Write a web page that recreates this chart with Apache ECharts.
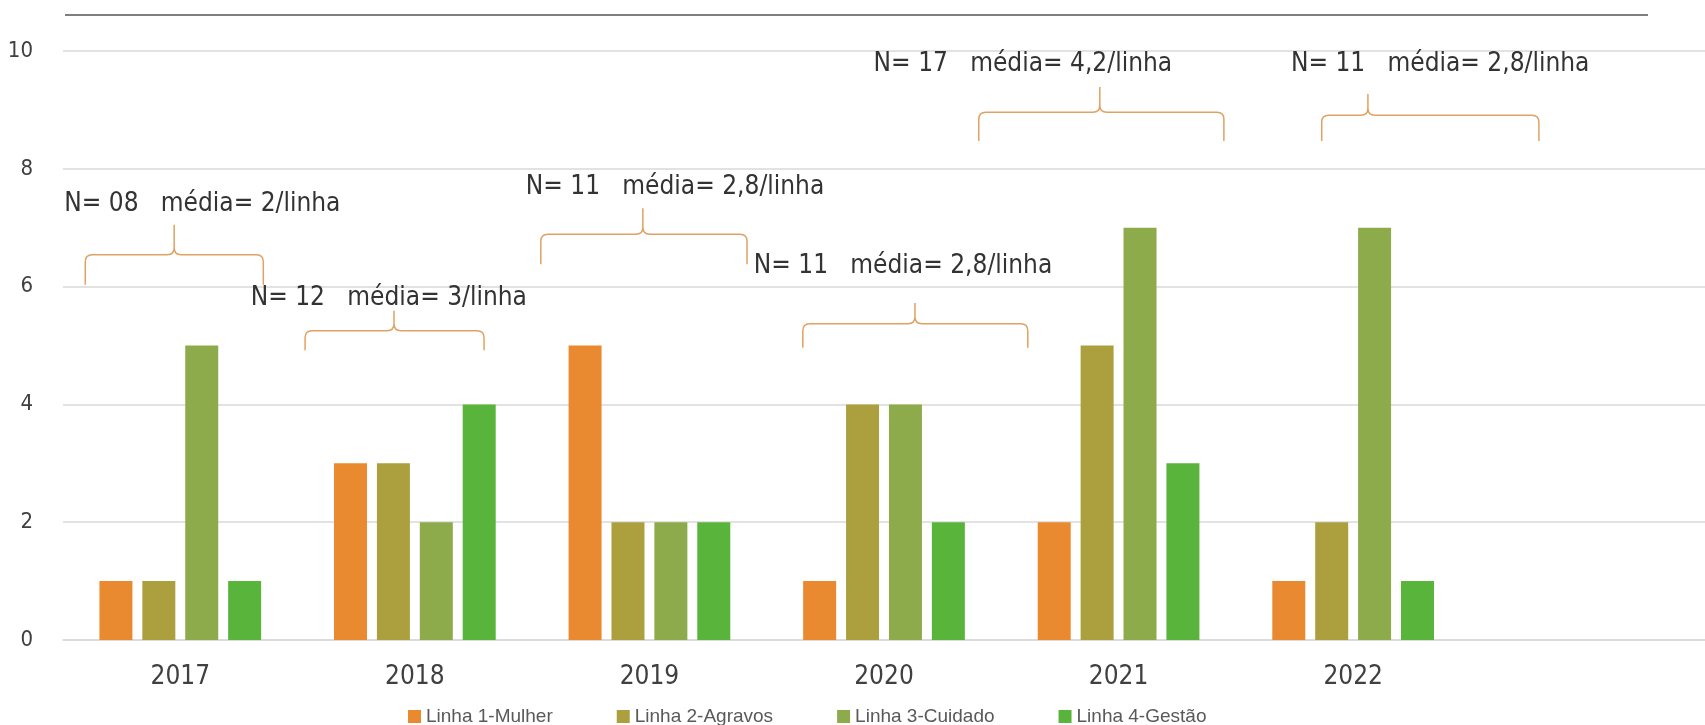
<!DOCTYPE html>
<html>
<head>
<meta charset="utf-8">
<script src="https://cdn.jsdelivr.net/npm/echarts@6/dist/echarts.min.js"></script>
<style>
  html, body { margin: 0; padding: 0; background: #fff; }
  #main { width: 1705px; height: 725px; }
</style>
</head>
<body>
<div id="main"></div>
<script>
  // categorias (a ultima fica vazia, como no original)
  var anos = ['2017', '2018', '2019', '2020', '2021', '2022', ''];
  var linhas = ['Linha 1-Mulher', 'Linha 2-Agravos', 'Linha 3-Cuidado', 'Linha 4-Gestão'];
  var linha1 = [1, 3, 5, 1, 2, 1];
  var linha2 = [1, 3, 2, 4, 5, 2];
  var linha3 = [5, 2, 2, 4, 7, 7];
  var linha4 = [1, 4, 2, 2, 3, 1];
  var yTicks = [0, 2, 4, 6, 8, 10];

  // anotações: texto por ano
  var notas = [
    'N= 08   média= 2/linha',
    'N= 12   média= 3/linha',
    'N= 11   média= 2,8/linha',
    'N= 11   média= 2,8/linha',
    'N= 17   média= 4,2/linha',
    'N= 11   média= 2,8/linha'
  ];
  // posição das chaves: [inicio, fim, bico, texto] em fração da categoria, e alturas [texto, bico, traço, base] no eixo y
  var chaveX = [
    [-0.405, 0.354, -0.026, 0.094],
    [-0.468, 0.295, -0.089, -0.111],
    [-0.463, 0.416, -0.028, 0.109],
    [-0.346, 0.613, 0.132, 0.081],
    [-0.596, 0.449, -0.080, -0.408],
    [-0.134, 0.792, 0.063, 0.371]
  ];
  var chaveY = [
    [7.40, 7.05, 6.54, 6.03],
    [5.81, 5.59, 5.25, 4.92],
    [7.68, 7.33, 6.89, 6.38],
    [6.35, 5.72, 5.37, 4.96],
    [9.78, 9.39, 8.96, 8.47],
    [9.78, 9.27, 8.91, 8.47]
  ];

  var cores = ['#ea8a30', '#aca03e', '#8dab4b', '#58b43b'];
  var fonteCal = "'Liberation Sans Narrow', 'DejaVu Sans Condensed', 'Liberation Sans', sans-serif";

  var chart = echarts.init(document.getElementById('main'));

  var notasData = notas.map(function (t, i) {
    return [i].concat(chaveX[i], chaveY[i]);
  });

  function desenhaChave(params, api) {
    var i = api.value(0);
    var centro = api.coord([i, 0])[0];
    var banda = api.size([1, 0])[0];
    var x0 = centro + api.value(1) * banda;
    var x1 = centro + api.value(2) * banda;
    var pk = centro + api.value(3) * banda;
    var xt = centro + api.value(4) * banda;
    var yt = api.coord([i, api.value(5)])[1];
    var yTop = api.coord([i, api.value(6)])[1];
    var yh = api.coord([i, api.value(7)])[1];
    var yb = api.coord([i, api.value(8)])[1];
    var r = 7;
    var d = 'M' + x0 + ' ' + yb +
      ' L' + x0 + ' ' + (yh + r) +
      ' Q' + x0 + ' ' + yh + ' ' + (x0 + r) + ' ' + yh +
      ' L' + (pk - r) + ' ' + yh +
      ' Q' + pk + ' ' + yh + ' ' + pk + ' ' + (yh - r) +
      ' L' + pk + ' ' + yTop +
      ' M' + pk + ' ' + (yh - r) +
      ' Q' + pk + ' ' + yh + ' ' + (pk + r) + ' ' + yh +
      ' L' + (x1 - r) + ' ' + yh +
      ' Q' + x1 + ' ' + yh + ' ' + x1 + ' ' + (yh + r) +
      ' L' + x1 + ' ' + yb;
    return {
      type: 'group',
      children: [
        {
          type: 'path',
          shape: { pathData: d },
          style: { fill: null, stroke: '#e0a262', lineWidth: 1.5 }
        },
        {
          type: 'text',
          style: {
            text: notas[i],
            x: xt,
            y: yt,
            align: 'center',
            verticalAlign: 'middle',
            fill: '#333',
            font: '26px ' + fonteCal
          }
        }
      ]
    };
  }

  var barras = [linha1, linha2, linha3, linha4].map(function (vals, k) {
    return {
      name: linhas[k],
      type: 'bar',
      data: vals,
      barWidth: 33,
      barGap: '30%',
      itemStyle: { color: cores[k] }
    };
  });

  var option = {
    animation: false,
    grid: { left: 63, right: 0, top: 51, bottom: 85 },
    legend: {
      data: linhas,
      top: 702,
      left: 403,
      itemWidth: 13,
      itemHeight: 13,
      itemGap: 64,
      icon: 'rect',
      textStyle: { fontSize: 19, color: '#595959', fontFamily: 'Liberation Sans' }
    },
    xAxis: {
      type: 'category',
      data: anos,
      axisLine: { lineStyle: { color: '#d9d9d9', width: 1.5 } },
      axisTick: { show: false },
      axisLabel: { fontSize: 26, color: '#404040', margin: 24, fontFamily: fonteCal }
    },
    yAxis: {
      type: 'value',
      min: yTicks[0],
      max: yTicks[yTicks.length - 1],
      interval: 2,
      splitLine: { lineStyle: { color: '#d9d9d9', width: 1.5 } },
      axisLabel: { fontSize: 22, color: '#404040', margin: 30, fontFamily: fonteCal }
    },
    graphic: [
      {
        type: 'line',
        shape: { x1: 65, y1: 15, x2: 1648, y2: 15 },
        style: { stroke: '#555', lineWidth: 1.5 }
      }
    ],
    series: barras.concat([{
      type: 'custom',
      renderItem: desenhaChave,
      data: notasData,
      encode: { x: 0, y: 5 },
      silent: true,
      z: 5
    }])
  };

  chart.setOption(option);
</script>
</body>
</html>
